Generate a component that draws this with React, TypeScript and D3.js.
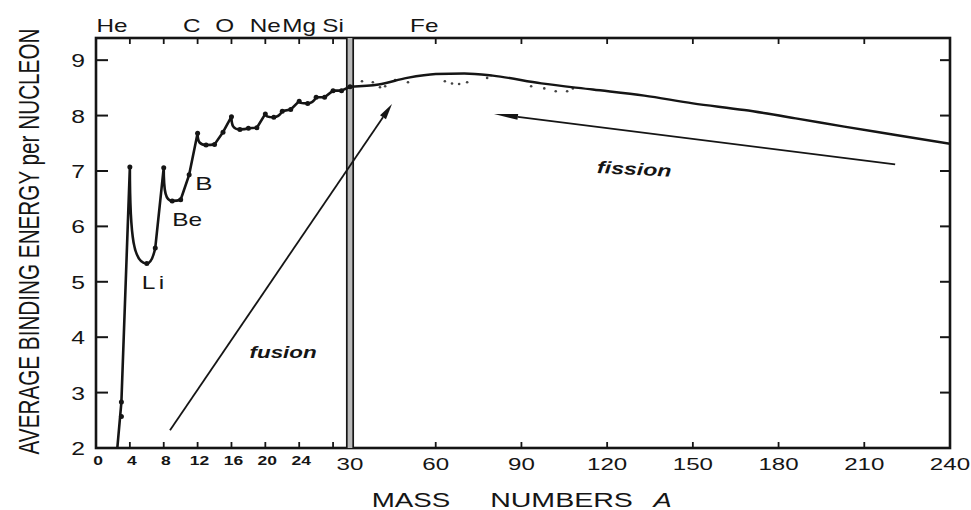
import React from 'react';
import * as d3 from 'd3';

// Average binding energy per nucleon versus mass number A.
// The x axis is split at A = 30: the light nuclei get an expanded scale.

const W = 971;
const H = 510;
const FRAME = { left: 96, right: 950, top: 38, bottom: 448 };
const SPLIT_A = 30;
const FONT = '"Liberation Sans", Arial, Helvetica, sans-serif';
const INK = '#151515';
const SX = 1.36; // horizontal stretch of the lettering

// Light nuclei, one value per mass number (MeV per nucleon)
const lightMass = [1, 2, 3, 4, 6, 7, 8, 9, 10, 11, 12, 13, 14, 15, 16, 17, 18, 19, 20, 21, 22, 23, 24, 25, 26, 27, 28, 29, 30];
const lightBinding = [0, 1.11, 2.83, 7.07, 5.33, 5.61, 7.06, 6.46, 6.48, 6.93, 7.68, 7.47, 7.48, 7.7, 7.98, 7.75, 7.77, 7.78, 8.03, 7.97, 8.08, 8.11, 8.26, 8.22, 8.33, 8.33, 8.45, 8.45, 8.52];
// Second A = 3 nucleus (helium-3)
const extraMass = [3];
const extraBinding = [2.57];

// Heavier nuclei, smooth trend
const heavyMass = [30, 40, 50, 60, 70, 80, 97, 115, 133, 150, 168, 186, 203, 221, 240];
const heavyBinding = [8.52, 8.56, 8.68, 8.75, 8.76, 8.72, 8.58, 8.47, 8.36, 8.22, 8.1, 7.95, 7.8, 7.65, 7.49];

// Individual isotopes scattered around the peak
const scatterMass = [34.2, 38, 40.5, 42.3, 45.8, 50.3, 63.2, 65.7, 68.2, 71, 78, 93.4, 98, 102, 106, 108];
const scatterBinding = [8.62, 8.6, 8.51, 8.53, 8.64, 8.6, 8.62, 8.58, 8.57, 8.6, 8.68, 8.53, 8.49, 8.44, 8.44, 8.49];

// Axes
const yTicks = [2, 3, 4, 5, 6, 7, 8, 9];
const lightTicks = [4, 8, 12, 16, 20, 24, 28];
const lightTickLabels = [0, 4, 8, 12, 16, 20, 24];
const heavyTicks = [60, 90, 120, 150, 180, 210];
const heavyTickLabels = [30, 60, 90, 120, 150, 180, 210, 240];

// Element names along the top edge, placed at mass number
const elementNames = ['He', 'C', 'O', 'Ne', 'Mg', 'Si', 'Fe'];
const elementMass = [1.9, 11.3, 15.2, 20, 24, 28, 56];

// Arrows: [A, E] start and end
const fusionFrom: [number, number] = [8.74, 2.32];
const fusionTo: [number, number] = [44.7, 8.21];
const fissionFrom: [number, number] = [220.8, 7.12];
const fissionTo: [number, number] = [80.4, 8.03];

const xLight = d3.scaleLinear().domain([0, SPLIT_A]).range([FRAME.left, 350]);
const xHeavy = d3.scaleLinear().domain([SPLIT_A, 240]).range([350, FRAME.right]);
const xA = (a: number) => (a <= SPLIT_A ? xLight(a) : xHeavy(a));
const y = d3.scaleLinear().domain([2, 9.4]).range([FRAME.bottom, FRAME.top]);

// Light-nucleus curve: sharp spikes drop vertically and round into the troughs
function lightPath(): string {
  const pts = lightMass.map((a, i) => [xA(a), y(lightBinding[i])]);
  const v = lightBinding;
  let d = `M${pts[0][0]},${pts[0][1]}`;
  for (let i = 0; i < pts.length - 1; i++) {
    const [x0, y0] = pts[i];
    const [x1, y1] = pts[i + 1];
    const peak = i > 0 && v[i] > v[i - 1] && v[i] > v[i + 1];
    const trough = i > 0 && v[i] < v[i - 1] && v[i] < v[i + 1];
    if (peak) {
      d += `C${x0},${y0 + 0.75 * (y1 - y0)} ${x0 + 0.25 * (x1 - x0)},${y1} ${x1},${y1}`;
    } else if (trough) {
      d += `Q${x0 + 0.6 * (x1 - x0)},${y0} ${x1},${y1}`;
    } else {
      d += `L${x1},${y1}`;
    }
  }
  return d;
}

const heavyLine = d3
  .line<number>()
  .x((a) => xA(a))
  .y((_, i) => y(heavyBinding[i]))
  .curve(d3.curveMonotoneX);

function Label(props: {
  x: number;
  y: number;
  size: number;
  anchor?: 'start' | 'middle' | 'end';
  weight?: string | number;
  italic?: boolean;
  spacing?: number;
  rotate?: number;
  sx?: number;
  children: React.ReactNode;
}) {
  const { x, y: ty, size, anchor = 'middle', weight = 'normal', italic = false, spacing = 0, rotate = 0, sx = SX, children } = props;
  return (
    <g transform={`translate(${x},${ty}) rotate(${rotate}) scale(${sx},1)`}>
      <text
        textAnchor={anchor}
        fontSize={size}
        fontFamily={FONT}
        fontWeight={weight}
        fontStyle={italic ? 'italic' : 'normal'}
        letterSpacing={spacing}
        fill={INK}
      >
        {children}
      </text>
    </g>
  );
}

function Arrow(props: { from: [number, number]; to: [number, number]; head: number; half: number; width: number }) {
  const { from, to, head, half, width } = props;
  const x0 = xA(from[0]);
  const y0 = y(from[1]);
  const x1 = xA(to[0]);
  const y1 = y(to[1]);
  const ang = Math.atan2(y1 - y0, x1 - x0);
  const bx = x1 - head * Math.cos(ang);
  const by = y1 - head * Math.sin(ang);
  const px = -Math.sin(ang) * half;
  const py = Math.cos(ang) * half;
  return (
    <g>
      <line x1={x0} y1={y0} x2={bx} y2={by} stroke={INK} strokeWidth={width} />
      <polygon points={`${x1},${y1} ${bx + px},${by + py} ${bx - px},${by - py}`} fill={INK} />
    </g>
  );
}

export default function App() {
  const splitX = xA(SPLIT_A);
  return (
    <svg
      width={W}
      height={H}
      viewBox={`0 0 ${W} ${H}`}
      style={{ position: 'absolute', left: 0, top: 0, background: '#fff' }}
    >
      <defs>
        <clipPath id="plot-area">
          <rect x={FRAME.left} y={FRAME.top} width={FRAME.right - FRAME.left} height={FRAME.bottom - FRAME.top} />
        </clipPath>
      </defs>
      <rect width={W} height={H} fill="#fff" />

      {/* frame */}
      <rect
        x={FRAME.left}
        y={FRAME.top}
        width={FRAME.right - FRAME.left}
        height={FRAME.bottom - FRAME.top}
        fill="none"
        stroke={INK}
        strokeWidth={2.6}
      />

      {/* axis break at A = 30 */}
      <rect x={splitX - 3.5} y={FRAME.top} width={7} height={FRAME.bottom - FRAME.top} fill="#b8b8b8" />
      <line x1={splitX - 3.2} x2={splitX - 3.2} y1={FRAME.top} y2={FRAME.bottom} stroke={INK} strokeWidth={1.7} />
      <line x1={splitX + 3.2} x2={splitX + 3.2} y1={FRAME.top} y2={FRAME.bottom} stroke={INK} strokeWidth={1.7} />

      {/* y ticks, both sides */}
      {yTicks.map((t) => (
        <g key={`yt${t}`}>
          <line x1={FRAME.left} x2={FRAME.left + 12} y1={y(t)} y2={y(t)} stroke={INK} strokeWidth={2} />
          <line x1={FRAME.right} x2={FRAME.right - 10} y1={y(t)} y2={y(t)} stroke={INK} strokeWidth={2} />
          <Label x={85} y={y(t) + 7} size={19} anchor="end" sx={1.3}>
            {t}
          </Label>
        </g>
      ))}

      {/* x ticks, bottom and top */}
      {[...lightTicks, ...heavyTicks].map((t) => (
        <g key={`xt${t}`}>
          <line x1={xA(t)} x2={xA(t)} y1={FRAME.bottom} y2={FRAME.bottom - 6} stroke={INK} strokeWidth={1.8} />
          <line x1={xA(t)} x2={xA(t)} y1={FRAME.top} y2={FRAME.top + 6} stroke={INK} strokeWidth={1.8} />
        </g>
      ))}
      {lightTickLabels.map((t) => (
        <Label key={`lx${t}`} x={xA(t) + 2} y={465} size={12.5} weight="bold" sx={1.4}>
          {t}
        </Label>
      ))}
      {heavyTickLabels.map((t) => (
        <Label key={`hx${t}`} x={xA(t)} y={470} size={17} sx={1.42}>
          {t}
        </Label>
      ))}

      {/* element names */}
      {elementNames.map((name, i) => (
        <Label key={name} x={xA(elementMass[i])} y={32} size={18} sx={1.35}>
          {name}
        </Label>
      ))}

      {/* curves */}
      <g clipPath="url(#plot-area)">
        <path d={lightPath()} fill="none" stroke={INK} strokeWidth={2.6} strokeLinejoin="round" />
        <path d={heavyLine(heavyMass) || ''} fill="none" stroke={INK} strokeWidth={2.4} />
        {lightMass.map((a, i) => (
          <circle key={`lm${a}`} cx={xA(a)} cy={y(lightBinding[i])} r={2.5} fill={INK} />
        ))}
        {extraMass.map((a, i) => (
          <circle key={`em${i}`} cx={xA(a)} cy={y(extraBinding[i])} r={2.5} fill={INK} />
        ))}
        {scatterMass.map((a, i) => (
          <circle key={`sc${i}`} cx={xA(a)} cy={y(scatterBinding[i])} r={1.3} fill={INK} opacity={0.8} />
        ))}
      </g>

      {/* labels on the light-nucleus curve */}
      <Label x={xA(6) - 5} y={y(5.33) + 25} size={18} anchor="start" spacing={2.5}>
        Li
      </Label>
      <Label x={xA(9)} y={y(6.46) + 25} size={18} anchor="start">
        Be
      </Label>
      <Label x={xA(11) + 6} y={y(6.93) + 15} size={19} anchor="start">
        B
      </Label>

      {/* fusion / fission arrows */}
      <Arrow from={fusionFrom} to={fusionTo} head={16} half={3.6} width={1.8} />
      <Arrow from={fissionFrom} to={fissionTo} head={24} half={3} width={1.8} />
      <Label x={xA(22.1)} y={y(3.62)} size={16.5} italic weight="bold">
        fusion
      </Label>
      <Label x={xA(129.4)} y={y(6.93)} size={17} italic weight="bold" rotate={3}>
        fission
      </Label>

      {/* axis titles */}
      <text
        transform="translate(39,241.5) rotate(-90) scale(0.69,1)"
        textAnchor="middle"
        fontSize={30}
        fontFamily={FONT}
        fill={INK}
      >
        AVERAGE BINDING ENERGY per NUCLEON
      </text>
      <Label x={411} y={507} size={21} sx={1.32}>
        MASS
      </Label>
      <Label x={561.5} y={507} size={21} sx={1.36}>
        NUMBERS
      </Label>
      <Label x={662.5} y={507} size={21} italic sx={1.3}>
        A
      </Label>
    </svg>
  );
}
